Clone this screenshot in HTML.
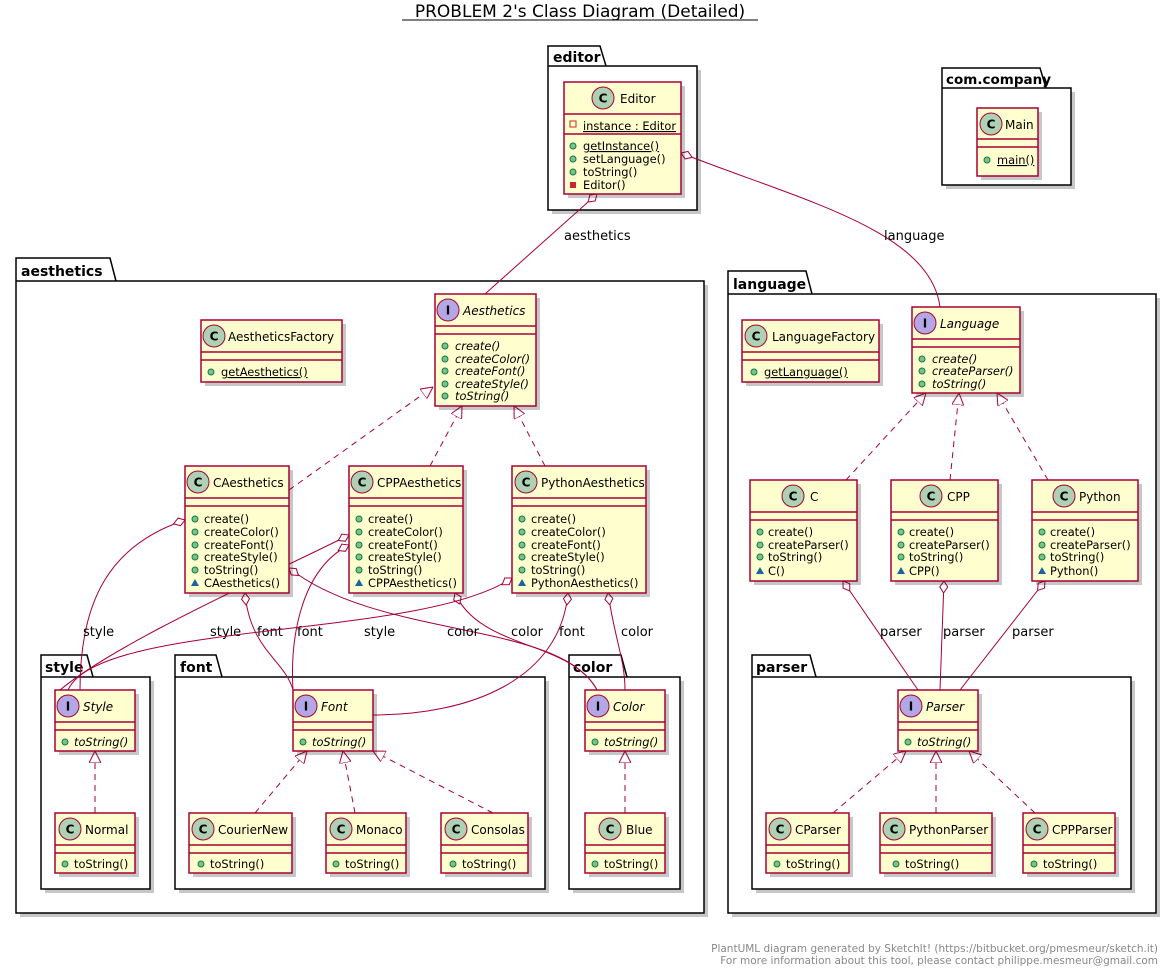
<!DOCTYPE html>
<html><head><meta charset="utf-8"><style>
body{margin:0;background:#fff}
svg text{font-family:"DejaVu Sans","Liberation Sans",sans-serif}
.b{fill:#FEFECE;stroke:#A80036;stroke-width:1.5}
.sh{fill:#000;opacity:.22}
.s{stroke:#A80036;stroke-width:1.5}
.n{font-size:12px;fill:#000}
.m{font-size:11.4px;fill:#000}
.i{font-style:italic}
.pk{fill:#fff;stroke:#000;stroke-width:1.5}
.pt{font-size:14px;font-weight:bold}
.l{stroke:#A80036;stroke-width:1;fill:none}
.d{stroke-dasharray:6,5}
.lb{font-size:13px}
.cc{fill:#ADD1B2;stroke:#A80036;stroke-width:1}
.ci{fill:#B4A7E5;stroke:#A80036;stroke-width:1}
.g{fill:#84BE84;stroke:#038048;stroke-width:1}
</style></head><body>
<svg width="1171" height="971" xmlns="http://www.w3.org/2000/svg">
<defs>
<marker id="tri" viewBox="0 0 12 12" refX="12" refY="6" markerWidth="12" markerHeight="12" markerUnits="userSpaceOnUse" orient="auto"><path d="M0,0 L12,6 L0,12 Z" fill="#fff" stroke="#A80036"/></marker>
<marker id="dia" viewBox="-1 -1 14 10" refX="0" refY="4" markerWidth="14" markerHeight="10" markerUnits="userSpaceOnUse" orient="auto"><path d="M0,4 L6,0 L12,4 L6,8 Z" fill="#fff" stroke="#A80036"/></marker>
</defs>
<text x="580" y="17" text-anchor="middle" style="font-size:17px">PROBLEM 2's Class Diagram (Detailed)</text>
<line x1="402" y1="20" x2="758" y2="20" stroke="#000" stroke-width="1"/>

<!-- packages -->
<g>
<rect x="552" y="70" width="149" height="144" class="sh"/>
<path class="pk" d="M548,66 L548,46 L600,46 L606,66 L697,66 L697,210 L548,210 Z M548,66 L606,66"/>
<text x="553" y="62" class="pt">editor</text>
<rect x="946" y="92" width="129" height="97" class="sh"/>
<path class="pk" d="M942,88 L942,68 L1040,68 L1046,88 L1071,88 L1071,185 L942,185 Z M942,88 L1046,88"/>
<text x="946" y="84" class="pt" style="font-size:13.5px">com.company</text>
<rect x="20" y="285" width="688" height="632" class="sh"/>
<path class="pk" d="M16,281 L16,258 L110,258 L116,281 L704,281 L704,913 L16,913 Z M16,281 L116,281"/>
<text x="21" y="276" class="pt">aesthetics</text>
<rect x="732" y="298" width="428" height="619" class="sh"/>
<path class="pk" d="M728,294 L728,271 L806,271 L812,294 L1156,294 L1156,913 L728,913 Z M728,294 L812,294"/>
<text x="733" y="289" class="pt">language</text>
<rect x="45" y="681" width="109" height="212" class="sh"/>
<path class="pk" d="M41,677 L41,655 L87,655 L93,677 L150,677 L150,889 L41,889 Z M41,677 L93,677"/>
<text x="45" y="672" class="pt">style</text>
<rect x="179" y="681" width="370" height="212" class="sh"/>
<path class="pk" d="M175,677 L175,655 L216,655 L222,677 L545,677 L545,889 L175,889 Z M175,677 L222,677"/>
<text x="180" y="672" class="pt">font</text>
<rect x="573" y="681" width="111" height="212" class="sh"/>
<path class="pk" d="M569,677 L569,655 L621,655 L627,677 L680,677 L680,889 L569,889 Z M569,677 L627,677"/>
<text x="573" y="672" class="pt">color</text>
<rect x="756" y="681" width="379" height="212" class="sh"/>
<path class="pk" d="M752,677 L752,655 L810,655 L816,677 L1131,677 L1131,889 L752,889 Z M752,677 L816,677"/>
<text x="756" y="672" class="pt">parser</text>
</g>

<!-- connectors -->
<g>
<line class="l" x1="597" y1="194" x2="485" y2="294" marker-start="url(#dia)"/>
<text x="564" y="240" class="lb">aesthetics</text>
<path class="l" d="M681,153 C800,200 930,230 940,307" marker-start="url(#dia)"/>
<text x="884" y="240" class="lb">language</text>

<line class="l d" x1="289" y1="490" x2="433" y2="387" marker-end="url(#tri)"/>
<line class="l d" x1="430" y1="466" x2="462" y2="406" marker-end="url(#tri)"/>
<line class="l d" x1="545" y1="466" x2="514" y2="406" marker-end="url(#tri)"/>
<line class="l d" x1="846" y1="480" x2="926" y2="393" marker-end="url(#tri)"/>
<line class="l d" x1="950" y1="480" x2="959" y2="393" marker-end="url(#tri)"/>
<line class="l d" x1="1048" y1="480" x2="997" y2="393" marker-end="url(#tri)"/>
<line class="l d" x1="833" y1="813" x2="906" y2="751" marker-end="url(#tri)"/>
<line class="l d" x1="936" y1="813" x2="936" y2="751" marker-end="url(#tri)"/>
<line class="l d" x1="1035" y1="813" x2="969" y2="751" marker-end="url(#tri)"/>
<line class="l d" x1="95" y1="813" x2="95" y2="751" marker-end="url(#tri)"/>
<line class="l d" x1="255" y1="813" x2="307" y2="751" marker-end="url(#tri)"/>
<line class="l d" x1="355" y1="813" x2="343" y2="751" marker-end="url(#tri)"/>
<line class="l d" x1="493" y1="813" x2="373" y2="751" marker-end="url(#tri)"/>
<line class="l d" x1="625" y1="813" x2="625" y2="751" marker-end="url(#tri)"/>

<line class="l" x1="843" y1="581" x2="918" y2="690" marker-start="url(#dia)"/>
<text x="880" y="636" class="lb">parser</text>
<line class="l" x1="944" y1="581" x2="940" y2="690" marker-start="url(#dia)"/>
<text x="943" y="636" class="lb">parser</text>
<line class="l" x1="1045" y1="581" x2="960" y2="690" marker-start="url(#dia)"/>
<text x="1012" y="636" class="lb">parser</text>

<path class="l" d="M185,520 C110,545 80,600 80,690" marker-start="url(#dia)"/>
<text x="83" y="636" class="lb">style</text>
<path class="l" d="M245,593 C250,650 285,660 293,690" marker-start="url(#dia)"/>
<text x="257" y="636" class="lb">font</text>
<path class="l" d="M289,568 C380,640 560,620 597,690" marker-start="url(#dia)"/>
<text x="447" y="636" class="lb">color</text>
<path class="l" d="M349,535 C280,570 120,640 60,690" marker-start="url(#dia)"/>
<text x="210" y="636" class="lb">style</text>
<path class="l" d="M349,545 C300,570 290,640 293,690" marker-start="url(#dia)"/>
<text x="297" y="636" class="lb">font</text>
<path class="l" d="M455,593 C480,650 570,640 597,690" marker-start="url(#dia)"/>
<text x="511" y="636" class="lb">color</text>
<path class="l" d="M512,578 C420,640 100,620 68,690" marker-start="url(#dia)"/>
<text x="364" y="636" class="lb">style</text>
<path class="l" d="M568,593 C560,680 470,715 373,715" marker-start="url(#dia)"/>
<text x="559" y="636" class="lb">font</text>
<path class="l" d="M608,593 C615,640 625,660 625,690" marker-start="url(#dia)"/>
<text x="621" y="636" class="lb">color</text>
</g>

<!-- Editor -->
<g>
<rect x="568" y="86" width="117" height="112" class="sh"/>
<rect x="564" y="82" width="117" height="112" class="b"/>
<circle cx="603" cy="98" r="11" class="cc"/><text x="603" y="102.5" text-anchor="middle" style="font-size:12px;font-weight:bold">C</text>
<text x="620" y="103" class="n">Editor</text>
<line x1="564" y1="114" x2="681" y2="114" class="s"/>
<rect x="570" y="121" width="6" height="6" fill="none" stroke="#C82930"/>
<text x="583" y="130" class="m" text-decoration="underline">instance : Editor</text>
<line x1="564" y1="134" x2="681" y2="134" class="s"/>
<circle cx="573" cy="146" r="3" class="g"/><text x="583" y="150" class="m" text-decoration="underline">getInstance()</text>
<circle cx="573" cy="159" r="3" class="g"/><text x="583" y="163" class="m">setLanguage()</text>
<circle cx="573" cy="172" r="3" class="g"/><text x="583" y="176" class="m">toString()</text>
<rect x="570" y="182" width="6" height="6" fill="#C82930"/><text x="583" y="189" class="m">Editor()</text>
</g>
<!-- Main -->
<g>
<rect x="981" y="112" width="61" height="68" class="sh"/>
<rect x="977" y="108" width="61" height="68" class="b"/>
<circle cx="991" cy="124" r="11" class="cc"/><text x="991" y="128.5" text-anchor="middle" style="font-size:12px;font-weight:bold">C</text>
<text x="1005" y="129" class="n">Main</text>
<line x1="977" y1="139" x2="1038" y2="139" class="s"/><line x1="977" y1="147" x2="1038" y2="147" class="s"/>
<circle cx="987" cy="160" r="3" class="g"/><text x="997" y="164" class="m" text-decoration="underline">main()</text>
</g>
<!-- AestheticsFactory -->
<g>
<rect x="205" y="324" width="141" height="62" class="sh"/>
<rect x="201" y="320" width="141" height="62" class="b"/>
<circle cx="214" cy="336" r="11" class="cc"/><text x="214" y="340.5" text-anchor="middle" style="font-size:12px;font-weight:bold">C</text>
<text x="228" y="341" class="n">AestheticsFactory</text>
<line x1="201" y1="352" x2="342" y2="352" class="s"/><line x1="201" y1="360" x2="342" y2="360" class="s"/>
<circle cx="211" cy="372" r="3" class="g"/><text x="221" y="376" class="m" text-decoration="underline">getAesthetics()</text>
</g>
<!-- Aesthetics -->
<g>
<rect x="439" y="298" width="101" height="112" class="sh"/>
<rect x="435" y="294" width="101" height="112" class="b"/>
<circle cx="448" cy="310" r="11" class="ci"/><text x="448" y="314.5" text-anchor="middle" style="font-size:12px;font-weight:bold">I</text>
<text x="463" y="315" class="n i">Aesthetics</text>
<line x1="435" y1="326" x2="536" y2="326" class="s"/><line x1="435" y1="334" x2="536" y2="334" class="s"/>
<circle cx="445" cy="346" r="3" class="g"/><text x="455" y="350" class="m i">create()</text>
<circle cx="445" cy="359" r="3" class="g"/><text x="455" y="363" class="m i">createColor()</text>
<circle cx="445" cy="371" r="3" class="g"/><text x="455" y="375" class="m i">createFont()</text>
<circle cx="445" cy="384" r="3" class="g"/><text x="455" y="388" class="m i">createStyle()</text>
<circle cx="445" cy="396" r="3" class="g"/><text x="455" y="400" class="m i">toString()</text>
</g>
<!-- LanguageFactory -->
<g>
<rect x="746" y="324" width="137" height="62" class="sh"/>
<rect x="742" y="320" width="137" height="62" class="b"/>
<circle cx="756" cy="336" r="11" class="cc"/><text x="756" y="340.5" text-anchor="middle" style="font-size:12px;font-weight:bold">C</text>
<text x="772" y="341" class="n">LanguageFactory</text>
<line x1="742" y1="352" x2="879" y2="352" class="s"/><line x1="742" y1="360" x2="879" y2="360" class="s"/>
<circle cx="754" cy="372" r="3" class="g"/><text x="764" y="376" class="m" text-decoration="underline">getLanguage()</text>
</g>
<!-- Language -->
<g>
<rect x="916" y="311" width="108" height="86" class="sh"/>
<rect x="912" y="307" width="108" height="86" class="b"/>
<circle cx="925" cy="323" r="11" class="ci"/><text x="925" y="327.5" text-anchor="middle" style="font-size:12px;font-weight:bold">I</text>
<text x="940" y="328" class="n i">Language</text>
<line x1="912" y1="339" x2="1020" y2="339" class="s"/><line x1="912" y1="347" x2="1020" y2="347" class="s"/>
<circle cx="922" cy="359" r="3" class="g"/><text x="932" y="363" class="m i">create()</text>
<circle cx="922" cy="371" r="3" class="g"/><text x="932" y="375" class="m i">createParser()</text>
<circle cx="922" cy="384" r="3" class="g"/><text x="932" y="388" class="m i">toString()</text>
</g>
<!-- CAesthetics -->
<g>
<rect x="189" y="470" width="104" height="127" class="sh"/>
<rect x="185" y="466" width="104" height="127" class="b"/>
<circle cx="198" cy="482" r="11" class="cc"/><text x="198" y="486.5" text-anchor="middle" style="font-size:12px;font-weight:bold">C</text>
<text x="213" y="487" class="n">CAesthetics</text>
<line x1="185" y1="498" x2="289" y2="498" class="s"/><line x1="185" y1="506" x2="289" y2="506" class="s"/>
<circle cx="195" cy="519" r="3" class="g"/><text x="204" y="523" class="m">create()</text>
<circle cx="195" cy="532" r="3" class="g"/><text x="204" y="536" class="m">createColor()</text>
<circle cx="195" cy="545" r="3" class="g"/><text x="204" y="549" class="m">createFont()</text>
<circle cx="195" cy="557" r="3" class="g"/><text x="204" y="561" class="m">createStyle()</text>
<circle cx="195" cy="570" r="3" class="g"/><text x="204" y="574" class="m">toString()</text>
<path d="M191,586 L195,579 L199,586 Z" fill="#1963A0"/><text x="204" y="587" class="m">CAesthetics()</text>
</g>
<!-- CPPAesthetics -->
<g>
<rect x="353" y="470" width="114" height="127" class="sh"/>
<rect x="349" y="466" width="114" height="127" class="b"/>
<circle cx="362" cy="482" r="11" class="cc"/><text x="362" y="486.5" text-anchor="middle" style="font-size:12px;font-weight:bold">C</text>
<text x="377" y="487" class="n">CPPAesthetics</text>
<line x1="349" y1="498" x2="463" y2="498" class="s"/><line x1="349" y1="506" x2="463" y2="506" class="s"/>
<circle cx="359" cy="519" r="3" class="g"/><text x="368" y="523" class="m">create()</text>
<circle cx="359" cy="532" r="3" class="g"/><text x="368" y="536" class="m">createColor()</text>
<circle cx="359" cy="545" r="3" class="g"/><text x="368" y="549" class="m">createFont()</text>
<circle cx="359" cy="557" r="3" class="g"/><text x="368" y="561" class="m">createStyle()</text>
<circle cx="359" cy="570" r="3" class="g"/><text x="368" y="574" class="m">toString()</text>
<path d="M355,586 L359,579 L363,586 Z" fill="#1963A0"/><text x="368" y="587" class="m">CPPAesthetics()</text>
</g>
<!-- PythonAesthetics -->
<g>
<rect x="516" y="470" width="134" height="127" class="sh"/>
<rect x="512" y="466" width="134" height="127" class="b"/>
<circle cx="526" cy="482" r="11" class="cc"/><text x="526" y="486.5" text-anchor="middle" style="font-size:12px;font-weight:bold">C</text>
<text x="541" y="487" class="n">PythonAesthetics</text>
<line x1="512" y1="498" x2="646" y2="498" class="s"/><line x1="512" y1="506" x2="646" y2="506" class="s"/>
<circle cx="522" cy="519" r="3" class="g"/><text x="531" y="523" class="m">create()</text>
<circle cx="522" cy="532" r="3" class="g"/><text x="531" y="536" class="m">createColor()</text>
<circle cx="522" cy="545" r="3" class="g"/><text x="531" y="549" class="m">createFont()</text>
<circle cx="522" cy="557" r="3" class="g"/><text x="531" y="561" class="m">createStyle()</text>
<circle cx="522" cy="570" r="3" class="g"/><text x="531" y="574" class="m">toString()</text>
<path d="M518,586 L522,579 L526,586 Z" fill="#1963A0"/><text x="531" y="587" class="m">PythonAesthetics()</text>
</g>
<!-- C, CPP, Python -->
<g>
<rect x="754" y="484" width="107" height="101" class="sh"/>
<rect x="750" y="480" width="107" height="101" class="b"/>
<circle cx="793" cy="496" r="11" class="cc"/><text x="793" y="500.5" text-anchor="middle" style="font-size:12px;font-weight:bold">C</text>
<text x="810" y="501" class="n">C</text>
<line x1="750" y1="512" x2="857" y2="512" class="s"/><line x1="750" y1="520" x2="857" y2="520" class="s"/>
<circle cx="760" cy="532" r="3" class="g"/><text x="768" y="536" class="m">create()</text>
<circle cx="760" cy="545" r="3" class="g"/><text x="768" y="549" class="m">createParser()</text>
<circle cx="760" cy="557" r="3" class="g"/><text x="768" y="561" class="m">toString()</text>
<path d="M756,574 L760,567 L764,574 Z" fill="#1963A0"/><text x="768" y="575" class="m">C()</text>
</g>
<g>
<rect x="895" y="484" width="107" height="101" class="sh"/>
<rect x="891" y="480" width="107" height="101" class="b"/>
<circle cx="931" cy="496" r="11" class="cc"/><text x="931" y="500.5" text-anchor="middle" style="font-size:12px;font-weight:bold">C</text>
<text x="947" y="501" class="n">CPP</text>
<line x1="891" y1="512" x2="998" y2="512" class="s"/><line x1="891" y1="520" x2="998" y2="520" class="s"/>
<circle cx="901" cy="532" r="3" class="g"/><text x="909" y="536" class="m">create()</text>
<circle cx="901" cy="545" r="3" class="g"/><text x="909" y="549" class="m">createParser()</text>
<circle cx="901" cy="557" r="3" class="g"/><text x="909" y="561" class="m">toString()</text>
<path d="M897,574 L901,567 L905,574 Z" fill="#1963A0"/><text x="909" y="575" class="m">CPP()</text>
</g>
<g>
<rect x="1036" y="484" width="106" height="101" class="sh"/>
<rect x="1032" y="480" width="106" height="101" class="b"/>
<circle cx="1064" cy="496" r="11" class="cc"/><text x="1064" y="500.5" text-anchor="middle" style="font-size:12px;font-weight:bold">C</text>
<text x="1079" y="501" class="n">Python</text>
<line x1="1032" y1="512" x2="1138" y2="512" class="s"/><line x1="1032" y1="520" x2="1138" y2="520" class="s"/>
<circle cx="1042" cy="532" r="3" class="g"/><text x="1050" y="536" class="m">create()</text>
<circle cx="1042" cy="545" r="3" class="g"/><text x="1050" y="549" class="m">createParser()</text>
<circle cx="1042" cy="557" r="3" class="g"/><text x="1050" y="561" class="m">toString()</text>
<path d="M1038,574 L1042,567 L1046,574 Z" fill="#1963A0"/><text x="1050" y="575" class="m">Python()</text>
</g>
<!-- Interfaces Style, Font, Color, Parser -->
<g>
<rect x="59" y="694" width="80" height="61" class="sh"/>
<rect x="55" y="690" width="80" height="61" class="b"/>
<circle cx="68" cy="706" r="11" class="ci"/><text x="68" y="710.5" text-anchor="middle" style="font-size:12px;font-weight:bold">I</text>
<text x="83" y="711" class="n i">Style</text>
<line x1="55" y1="722" x2="135" y2="722" class="s"/><line x1="55" y1="730" x2="135" y2="730" class="s"/>
<circle cx="65" cy="742" r="3" class="g"/><text x="74" y="746" class="m i">toString()</text>
</g>
<g>
<rect x="297" y="694" width="80" height="61" class="sh"/>
<rect x="293" y="690" width="80" height="61" class="b"/>
<circle cx="306" cy="706" r="11" class="ci"/><text x="306" y="710.5" text-anchor="middle" style="font-size:12px;font-weight:bold">I</text>
<text x="321" y="711" class="n i">Font</text>
<line x1="293" y1="722" x2="373" y2="722" class="s"/><line x1="293" y1="730" x2="373" y2="730" class="s"/>
<circle cx="303" cy="742" r="3" class="g"/><text x="312" y="746" class="m i">toString()</text>
</g>
<g>
<rect x="589" y="694" width="80" height="61" class="sh"/>
<rect x="585" y="690" width="80" height="61" class="b"/>
<circle cx="598" cy="706" r="11" class="ci"/><text x="598" y="710.5" text-anchor="middle" style="font-size:12px;font-weight:bold">I</text>
<text x="613" y="711" class="n i">Color</text>
<line x1="585" y1="722" x2="665" y2="722" class="s"/><line x1="585" y1="730" x2="665" y2="730" class="s"/>
<circle cx="595" cy="742" r="3" class="g"/><text x="604" y="746" class="m i">toString()</text>
</g>
<g>
<rect x="902" y="694" width="80" height="61" class="sh"/>
<rect x="898" y="690" width="80" height="61" class="b"/>
<circle cx="911" cy="706" r="11" class="ci"/><text x="911" y="710.5" text-anchor="middle" style="font-size:12px;font-weight:bold">I</text>
<text x="926" y="711" class="n i">Parser</text>
<line x1="898" y1="722" x2="978" y2="722" class="s"/><line x1="898" y1="730" x2="978" y2="730" class="s"/>
<circle cx="908" cy="742" r="3" class="g"/><text x="917" y="746" class="m i">toString()</text>
</g>
<!-- leaf classes -->
<g>
<rect x="59" y="817" width="80" height="60" class="sh"/><rect x="55" y="813" width="80" height="60" class="b"/>
<circle cx="70" cy="829" r="11" class="cc"/><text x="70" y="833.5" text-anchor="middle" style="font-size:12px;font-weight:bold">C</text>
<text x="85" y="834" class="n">Normal</text>
<line x1="55" y1="845" x2="135" y2="845" class="s"/><line x1="55" y1="853" x2="135" y2="853" class="s"/>
<circle cx="65" cy="864" r="3" class="g"/><text x="74" y="868" class="m">toString()</text>
</g>
<g>
<rect x="193" y="817" width="103" height="60" class="sh"/><rect x="189" y="813" width="103" height="60" class="b"/>
<circle cx="203" cy="829" r="11" class="cc"/><text x="203" y="833.5" text-anchor="middle" style="font-size:12px;font-weight:bold">C</text>
<text x="218" y="834" class="n">CourierNew</text>
<line x1="189" y1="845" x2="292" y2="845" class="s"/><line x1="189" y1="853" x2="292" y2="853" class="s"/>
<circle cx="201" cy="864" r="3" class="g"/><text x="210" y="868" class="m">toString()</text>
</g>
<g>
<rect x="330" y="817" width="80" height="60" class="sh"/><rect x="326" y="813" width="80" height="60" class="b"/>
<circle cx="341" cy="829" r="11" class="cc"/><text x="341" y="833.5" text-anchor="middle" style="font-size:12px;font-weight:bold">C</text>
<text x="356" y="834" class="n">Monaco</text>
<line x1="326" y1="845" x2="406" y2="845" class="s"/><line x1="326" y1="853" x2="406" y2="853" class="s"/>
<circle cx="336" cy="864" r="3" class="g"/><text x="345" y="868" class="m">toString()</text>
</g>
<g>
<rect x="445" y="817" width="87" height="60" class="sh"/><rect x="441" y="813" width="87" height="60" class="b"/>
<circle cx="456" cy="829" r="11" class="cc"/><text x="456" y="833.5" text-anchor="middle" style="font-size:12px;font-weight:bold">C</text>
<text x="471" y="834" class="n">Consolas</text>
<line x1="441" y1="845" x2="528" y2="845" class="s"/><line x1="441" y1="853" x2="528" y2="853" class="s"/>
<circle cx="453" cy="864" r="3" class="g"/><text x="462" y="868" class="m">toString()</text>
</g>
<g>
<rect x="589" y="817" width="80" height="60" class="sh"/><rect x="585" y="813" width="80" height="60" class="b"/>
<circle cx="610" cy="829" r="11" class="cc"/><text x="610" y="833.5" text-anchor="middle" style="font-size:12px;font-weight:bold">C</text>
<text x="626" y="834" class="n">Blue</text>
<line x1="585" y1="845" x2="665" y2="845" class="s"/><line x1="585" y1="853" x2="665" y2="853" class="s"/>
<circle cx="595" cy="864" r="3" class="g"/><text x="604" y="868" class="m">toString()</text>
</g>
<g>
<rect x="770" y="817" width="83" height="60" class="sh"/><rect x="766" y="813" width="83" height="60" class="b"/>
<circle cx="780" cy="829" r="11" class="cc"/><text x="780" y="833.5" text-anchor="middle" style="font-size:12px;font-weight:bold">C</text>
<text x="795" y="834" class="n">CParser</text>
<line x1="766" y1="845" x2="849" y2="845" class="s"/><line x1="766" y1="853" x2="849" y2="853" class="s"/>
<circle cx="777" cy="864" r="3" class="g"/><text x="786" y="868" class="m">toString()</text>
</g>
<g>
<rect x="884" y="817" width="112" height="60" class="sh"/><rect x="880" y="813" width="112" height="60" class="b"/>
<circle cx="894" cy="829" r="11" class="cc"/><text x="894" y="833.5" text-anchor="middle" style="font-size:12px;font-weight:bold">C</text>
<text x="909" y="834" class="n">PythonParser</text>
<line x1="880" y1="845" x2="992" y2="845" class="s"/><line x1="880" y1="853" x2="992" y2="853" class="s"/>
<circle cx="896" cy="864" r="3" class="g"/><text x="905" y="868" class="m">toString()</text>
</g>
<g>
<rect x="1027" y="817" width="92" height="60" class="sh"/><rect x="1023" y="813" width="92" height="60" class="b"/>
<circle cx="1037" cy="829" r="11" class="cc"/><text x="1037" y="833.5" text-anchor="middle" style="font-size:12px;font-weight:bold">C</text>
<text x="1052" y="834" class="n">CPPParser</text>
<line x1="1023" y1="845" x2="1115" y2="845" class="s"/><line x1="1023" y1="853" x2="1115" y2="853" class="s"/>
<circle cx="1034" cy="864" r="3" class="g"/><text x="1043" y="868" class="m">toString()</text>
</g>

<text x="1158" y="952" text-anchor="end" style="font-size:10.5px;fill:#888">PlantUML diagram generated by SketchIt! (https://bitbucket.org/pmesmeur/sketch.it)</text>
<text x="1158" y="964" text-anchor="end" style="font-size:10.5px;fill:#888">For more information about this tool, please contact philippe.mesmeur@gmail.com</text>
</svg>
</body></html>
